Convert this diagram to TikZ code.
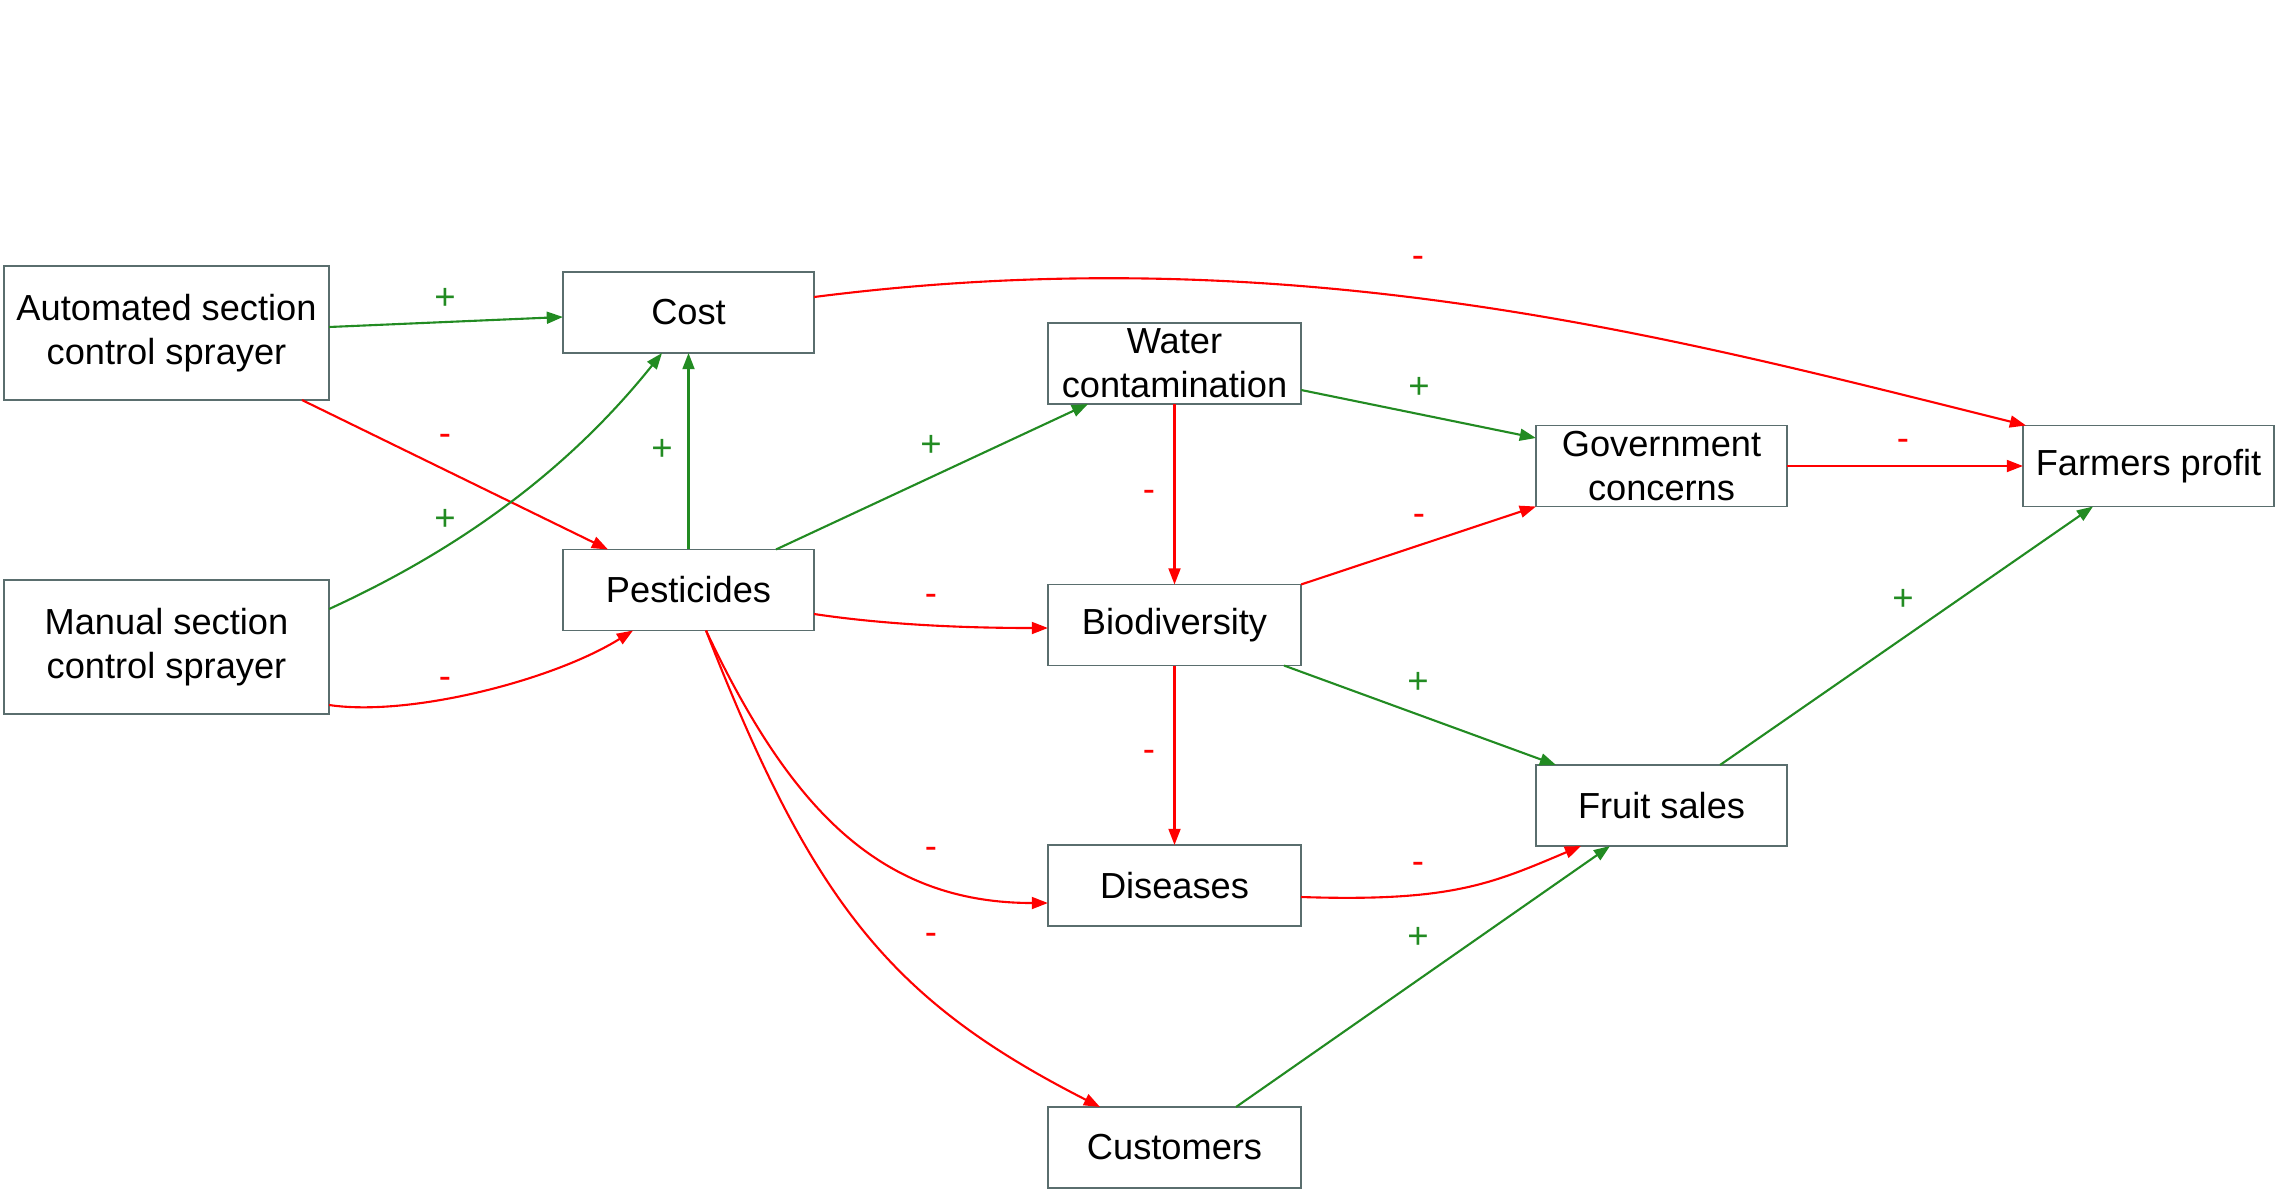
\documentclass[tikz,border=0pt]{standalone}
\usepackage{fontspec}
\setmainfont{Liberation Sans}
\usetikzlibrary{arrows.meta,calc}
\definecolor{posgreen}{RGB}{34,139,34}
\definecolor{negred}{RGB}{255,0,0}
\definecolor{boxline}{RGB}{90,110,110}
\begin{document}
\begin{tikzpicture}[x=0.01cm,y=-0.01cm,
 cbox/.style={draw=boxline,line width=0.5pt,fill=white,inner sep=0pt,outer sep=0pt,align=center,font=\fontsize{10.3}{12.4}\selectfont},
 wbox/.style={cbox,minimum width=2.51cm,minimum height=0.81cm},
 bbox/.style={cbox,minimum width=3.25cm,minimum height=1.34cm},
 plusarrow/.style={posgreen,line width=0.6pt,-{Triangle[length=4.6pt,width=3.4pt]}},
 minusarrow/.style={negred,line width=0.6pt,-{Triangle[length=4.6pt,width=3.4pt]}},
 plab/.style={text=posgreen,font=\fontsize{10.4}{12}\selectfont,inner sep=0pt},
 mlab/.style={text=negred,font=\fontsize{10.4}{12}\selectfont,inner sep=0pt}]
\useasboundingbox (0,0) rectangle (2280,1194);
% boxes
\node[bbox] (auto) at (166.5,333) {Automated section\\control sprayer};
\node[bbox] (manual) at (166.5,647) {Manual section\\control sprayer};
\node[wbox] (cost) at (688.5,312.5) {Cost};
\node[wbox] (pest) at (688.5,590) {Pesticides};
\node[wbox,minimum width=2.53cm] (water) at (1174.5,363.5) {Water\\contamination};
\node[wbox,minimum width=2.53cm] (bio) at (1174.5,625) {Biodiversity};
\node[wbox,minimum width=2.53cm] (dis) at (1174.5,885.5) {Diseases};
\node[wbox,minimum width=2.53cm] (cust) at (1174.5,1147.5) {Customers};
\node[wbox] (gov) at (1661.5,466) {Government\\concerns};
\node[wbox] (fruit) at (1661.5,805.5) {Fruit sales};
\node[wbox] (farm) at (2148.5,466) {Farmers profit};
% connectors
\draw[plusarrow] ($(auto.east)+(0,-6)$) -- ($(cost.west)+(0,4.5)$);
\draw[minusarrow] ($(auto.south)+(135.5,0)$) -- ($(pest.north)+(-80.5,0)$);
\draw[plusarrow] ($(manual.east)+(0,-38)$) .. controls +(120,-55) and +(-100,125) .. ($(cost.south)+(-26.5,0)$);
\draw[minusarrow] ($(manual.east)+(0,58)$) .. controls +(80,12) and +(-80,50) .. ($(pest.south)+(-55.5,0)$);
\draw[plusarrow] (pest.north) -- (cost.south);
\draw[minusarrow] ($(cost.east)+(0,-15.5)$) .. controls +(486,-62) and +(-346,-86) .. ($(farm.north)+(-122.5,0)$);
\draw[plusarrow] ($(pest.north)+(87.5,0)$) -- ($(water.south)+(-86.5,0)$);
\draw[minusarrow] ($(pest.east)+(0,24)$) .. controls +(80,12) and +(-70,0) .. ($(bio.west)+(0,3)$);
\draw[minusarrow] ($(pest.south)+(17.5,0)$) .. controls +(84,178) and +(-168,0) .. ($(dis.west)+(0,17.5)$);
\draw[minusarrow] ($(pest.south)+(17.5,0)$) .. controls +(107,274) and +(-208,-106) .. ($(cust.north)+(-74.5,0)$);
\draw[plusarrow] ($(water.east)+(0,26.5)$) -- ($(gov.west)+(0,-28)$);
\draw[minusarrow] (water.south) -- (bio.north);
\draw[minusarrow] (bio.north east) -- (gov.south west);
\draw[minusarrow] (gov.east) -- (farm.west);
\draw[plusarrow] ($(bio.south)+(109.5,0)$) -- ($(fruit.north)+(-105.5,0)$);
\draw[minusarrow] (bio.south) -- (dis.north);
\draw[minusarrow] ($(dis.east)+(0,11.5)$) .. controls +(150,5) and +(-90,38) .. ($(fruit.south)+(-80.5,0)$);
\draw[plusarrow] ($(cust.north)+(61.5,0)$) -- ($(fruit.south)+(-51.5,0)$);
\draw[plusarrow] ($(fruit.north)+(58.5,0)$) -- ($(farm.south)+(-55.5,0)$);
% labels
\node[plab] (l1) at (445,299) {+};
\node[mlab] (l2) at (445,440) {-};
\node[plab] (l3) at (445,520) {+};
\node[mlab] (l4) at (445,683) {-};
\node[plab] (l5) at (662,450) {+};
\node[mlab] (l6) at (1418,262) {-};
\node[plab] (l7) at (931,446) {+};
\node[mlab] (l8) at (931,600) {-};
\node[mlab] (l9) at (931,853) {-};
\node[mlab] (l10) at (931,939) {-};
\node[plab] (l11) at (1419,388) {+};
\node[mlab] (l12) at (1149,496) {-};
\node[mlab] (l13) at (1419,520) {-};
\node[mlab] (l14) at (1903,445) {-};
\node[plab] (l15) at (1418,683) {+};
\node[mlab] (l16) at (1149,756) {-};
\node[mlab] (l17) at (1418,868) {-};
\node[plab] (l18) at (1418,938) {+};
\node[plab] (l19) at (1903,600) {+};
\end{tikzpicture}
\end{document}
